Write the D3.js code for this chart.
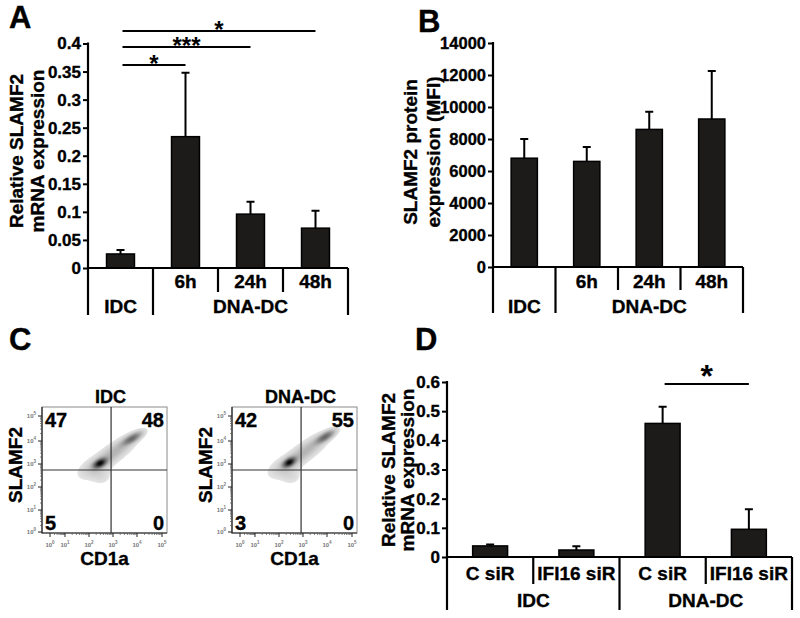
<!DOCTYPE html>
<html><head><meta charset="utf-8">
<script src="https://cdn.jsdelivr.net/npm/d3@7"></script>
<style>
body{margin:0;background:#fff}
text{font-family:"Liberation Sans",Arial,sans-serif;font-weight:bold;fill:#000}
text.b{stroke:#000;stroke-width:0.35px}
</style>
</head><body>
<svg id="c" width="800" height="618" xmlns="http://www.w3.org/2000/svg"></svg>
<script>
// ---------- DATA ----------
// Panel A : relative SLAMF2 mRNA expression
const aGroups = ["IDC","DNA-DC","DNA-DC","DNA-DC"];
const aTimes  = ["","6h","24h","48h"];
const aValues = [0.025,0.234,0.096,0.071];
const aErrors = [0.007,0.114,0.022,0.031];
const aTicks  = [0,0.05,0.1,0.15,0.2,0.25,0.3,0.35,0.4];
const aSigFrom = [0,0,0];
const aSigTo   = [1,2,3];
const aSigLabels = ["*","***","*"];

// Panel B : SLAMF2 protein expression (MFI)
const bGroups = ["IDC","DNA-DC","DNA-DC","DNA-DC"];
const bTimes  = ["","6h","24h","48h"];
const bValues = [6800,6600,8600,9250];
const bErrors = [1200,900,1100,3000];
const bTicks  = [0,2000,4000,6000,8000,10000,12000,14000];

// Panel C : flow cytometry quadrants (UL, UR, LL, LR)
const cTitles = ["IDC","DNA-DC"];
const cQuadIDC = [47,48,5,0];
const cQuadDNA = [42,55,3,0];
const cDecades = [0,1,2,3,4,5];
const cGateX = [2.92,2.92];
const cGateY = [2.74,2.74];
// density populations: [log CD1a, log SLAMF2, sdX, sdY, corr, weight]
const cPopIDC = [[2.46,3.03,0.17,0.13,0.5,1.0],[3.80,4.10,0.26,0.17,0.75,0.50],[3.10,3.55,0.52,0.42,0.8,0.18],[2.20,2.85,0.45,0.33,0.5,0.10],[2.50,2.45,0.30,0.25,0.0,0.07],[3.0,3.45,0.8,0.6,0.75,0.045]];
const cPopDNA = [[2.43,3.07,0.16,0.13,0.5,1.0],[3.93,4.17,0.25,0.17,0.75,0.52],[3.15,3.60,0.52,0.42,0.8,0.18],[2.20,2.88,0.45,0.33,0.5,0.10],[2.50,2.45,0.30,0.25,0.0,0.07],[3.05,3.5,0.8,0.6,0.75,0.045]];

// Panel D : relative SLAMF2 mRNA expression after siRNA
const dGroups = ["IDC","IDC","DNA-DC","DNA-DC"];
const dSi     = ["C siR","IFI16 siR","C siR","IFI16 siR"];
const dValues = [0.038,0.024,0.458,0.095];
const dErrors = [0.005,0.013,0.057,0.069];
const dTicks  = [0,0.1,0.2,0.3,0.4,0.5,0.6];
const dSigFrom = [2];
const dSigTo   = [3];
const dSigLabels = ["*"];

// ---------- DRAW ----------
const svg = d3.select("#c");

function barPanel(c){
  const g = svg.append("g");
  const idx = d3.range(c.values.length);
  const x = d3.scaleBand().domain(idx).range([c.x0,c.x1]);
  const y = d3.scaleLinear().domain([0,c.max]).range([c.yB,c.yT]);
  const bw = x.bandwidth()*c.bwFrac;
  const cx = i => x(i)+x.bandwidth()/2;
  // error bars
  g.selectAll(".err").data(idx).join("path")
    .attr("d",i=>`M${cx(i)},${y(c.values[i])}V${y(c.values[i]+c.errors[i])}M${cx(i)-4},${y(c.values[i]+c.errors[i])}h8`)
    .attr("stroke","#000").attr("stroke-width",2).attr("fill","none");
  // bars
  g.selectAll(".bar").data(idx).join("rect")
    .attr("x",i=>cx(i)-bw/2).attr("y",i=>y(c.values[i]))
    .attr("width",bw).attr("height",i=>y(0)-y(c.values[i]))
    .attr("fill","#1d1a1a").attr("stroke","#000").attr("stroke-width",1.5);
  // y axis
  const ax = g.append("g").attr("transform",`translate(${c.x0},0)`)
    .call(d3.axisLeft(y).tickValues(c.ticks).tickSize(5).tickSizeOuter(0).tickPadding(2).tickFormat(c.fmt));
  ax.select(".domain").remove();
  ax.selectAll(".tick line").attr("stroke","#000").attr("stroke-width",2);
  ax.selectAll(".tick text").attr("class","b").attr("font-size",c.tickFs).attr("font-family","Liberation Sans, Arial, sans-serif").attr("font-weight","bold").attr("fill","#000");
  // axis lines
  g.append("path").attr("d",`M${c.x0},${c.yT-1}V${c.longY}`).attr("stroke","#000").attr("stroke-width",2.2);
  g.append("path").attr("d",`M${c.x0-1},${c.yB}H${c.x1}`).attr("stroke","#000").attr("stroke-width",2.2);
  // dividers
  for(let i=1;i<=idx.length;i++){
    const xb = i<idx.length ? x(i) : c.x1;
    const isGroup = i===idx.length || c.groups[i]!==c.groups[i-1];
    g.append("path").attr("d",`M${xb},${c.yB}V${isGroup?c.longY:c.shortY}`).attr("stroke","#000").attr("stroke-width",2.2);
  }
  // level-1 labels
  idx.forEach(i=>{ if(c.sub[i]) g.append("text").attr("class","b").attr("x",cx(i)).attr("y",c.subY).attr("text-anchor","middle").attr("font-size",c.catFs).text(c.sub[i]); });
  // group labels
  const grp = d3.groups(idx,i=>c.groups[i]);
  grp.forEach(([name,ids])=>{
    const xm = (x(ids[0])+x(ids[ids.length-1])+x.bandwidth())/2;
    g.append("text").attr("class","b").attr("x",xm).attr("y",c.grpY).attr("text-anchor","middle").attr("font-size",c.catFs).text(name);
  });
  // y label
  c.ylab.forEach((t,k)=>{
    g.append("text").attr("class","b").attr("transform",`translate(${c.ylabX[k]},${c.ylabY}) rotate(-90)`)
      .attr("text-anchor","middle").attr("font-size",19).text(t);
  });
  // significance
  if(c.sigFrom){
    c.sigFrom.forEach((f,k)=>{
      const x1 = cx(f)+2, x2 = cx(c.sigTo[k]), yy = c.sigY[k];
      g.append("path").attr("d",`M${x1},${yy}H${x2}`).attr("stroke","#000").attr("stroke-width",2);
      g.append("text").attr("x",(x1+x2)/2).attr("y",yy+c.sigDy).attr("text-anchor","middle")
        .attr("font-size",c.sigFs).attr("font-weight","normal").text(c.sigLabels[k]);
    });
  }
  // panel letter
  g.append("text").attr("class","b").attr("x",c.letterX).attr("y",c.letterY).attr("font-size",31).text(c.letter);
}

barPanel({values:aValues,errors:aErrors,groups:aGroups,sub:aTimes,ticks:aTicks,max:0.4,
  x0:88,x1:348,yB:268,yT:43.5,bwFrac:0.43,longY:315,shortY:292,subY:288,grpY:313,
  fmt:d=>String(d),tickFs:17,catFs:19,
  ylab:["Relative SLAMF2","mRNA expression"],ylabX:[23,44],ylabY:151,
  sigFrom:aSigFrom,sigTo:aSigTo,sigLabels:aSigLabels,sigY:[65,47,31],sigDy:7,sigFs:24,
  letter:"A",letterX:9,letterY:28});

barPanel({values:bValues,errors:bErrors,groups:bGroups,sub:bTimes,ticks:bTicks,max:14000,
  x0:493,x1:743,yB:267,yT:43,bwFrac:0.42,longY:313,shortY:290,subY:288,grpY:313,
  fmt:d=>String(d),tickFs:16.5,catFs:19,
  ylab:["SLAMF2 protein","expression (MFI)"],ylabX:[417,440],ylabY:152,
  letter:"B",letterX:418,letterY:32});

barPanel({values:dValues,errors:dErrors,groups:dGroups,sub:dSi,ticks:dTicks,max:0.6,
  x0:447,x1:792,yB:557,yT:382,bwFrac:0.405,longY:610,shortY:584,subY:580,grpY:607,
  fmt:d=>String(d),tickFs:17,catFs:19,
  ylab:["Relative SLAMF2","mRNA expression"],ylabX:[395,414],ylabY:470,
  sigFrom:dSigFrom,sigTo:dSigTo,sigLabels:dSigLabels,sigY:[384],sigDy:3,sigFs:32,
  letter:"D",letterX:415,letterY:350});

// ---------- Panel C : flow plots ----------
const flowXPos = [8,23,47,71,95,120];
const flowYPos = [1,23,46,69,92,117];
function flowPanel(x0, title, quads, pops, gx, gy){
  const W=125,H=126,y0=407;
  const g = svg.append("g");
  const xs = d3.scaleLinear().domain(cDecades).range(flowXPos.map(p=>x0+p));
  const ys = d3.scaleLinear().domain(cDecades).range(flowYPos.map(p=>y0+H-p));
  // density grid
  const vals = new Float64Array(W*H);
  let mx = 0;
  for(let j=0;j<H;j++){
    const ly = ys.invert(y0+j+0.5);
    for(let i=0;i<W;i++){
      const lx = xs.invert(x0+i+0.5);
      let s=0;
      pops.forEach(([mxx,myy,sx,sy,r,w])=>{
        const dx=(lx-mxx)/sx, dy=(ly-myy)/sy;
        const q=(dx*dx-2*r*dx*dy+dy*dy)/(1-r*r);
        s+=w*Math.exp(-0.5*q);
      });
      vals[j*W+i]=s; if(s>mx) mx=s;
    }
  }
  const N=32;
  const lv = d3.range(N).map(k=>0.035+0.95*Math.pow(k/(N-1),1.4));
  const conts = d3.contours().size([W,H]).thresholds(lv.map(v=>v*mx))(vals);
  g.append("g").attr("transform",`translate(${x0},${y0})`)
    .selectAll("path").data(conts).join("path")
    .attr("d",d3.geoPath()).attr("fill",(d,k)=>d3.interpolateGreys(0.07+0.93*Math.pow(lv[k],0.6)));
  // frame
  g.append("rect").attr("x",x0).attr("y",y0).attr("width",W).attr("height",H).attr("fill","none").attr("stroke","#8a8a8a").attr("stroke-width",1);
  g.append("path").attr("d",`M${x0},${y0}V${y0+H}H${x0+W}`).attr("stroke","#222").attr("stroke-width",1.2).attr("fill","none");
  // gates
  g.append("path").attr("d",`M${xs(gx)},${y0}V${y0+H}M${x0},${ys(gy)}H${x0+W}`).attr("stroke","#333").attr("stroke-width",1.2);
  // ticks
  cDecades.forEach(dcd=>{
    g.append("path").attr("d",`M${xs(dcd)},${y0+H}v4`).attr("stroke","#222");
    g.append("path").attr("d",`M${x0},${ys(dcd)}h-4`).attr("stroke","#222");
    if(dcd<5) d3.range(2,10).forEach(m=>{
      const v=dcd+Math.log10(m);
      g.append("path").attr("d",`M${xs(v)},${y0+H}v2`).attr("stroke","#555").attr("stroke-width",0.7);
      g.append("path").attr("d",`M${x0},${ys(v)}h-2`).attr("stroke","#555").attr("stroke-width",0.7);
    });
    const tx = g.append("text").attr("x",xs(dcd)).attr("y",y0+H+14).attr("text-anchor","middle")
      .attr("font-size",6).attr("font-weight","normal").style("fill","#777");
    tx.append("tspan").text("10");
    tx.append("tspan").attr("dy",-3).attr("font-size",4.5).text(dcd);
    const ty = g.append("text").attr("x",x0-6).attr("y",ys(dcd)+2).attr("text-anchor","end")
      .attr("font-size",6).attr("font-weight","normal").style("fill","#777");
    ty.append("tspan").text("10");
    ty.append("tspan").attr("dy",-3).attr("font-size",4.5).text(dcd);
  });
  // quadrant numbers
  g.append("text").attr("class","b").attr("x",x0+3).attr("y",y0+20).attr("font-size",20).text(quads[0]);
  g.append("text").attr("class","b").attr("x",x0+W-3).attr("y",y0+20).attr("text-anchor","end").attr("font-size",20).text(quads[1]);
  g.append("text").attr("class","b").attr("x",x0+3).attr("y",y0+H-3).attr("font-size",20).text(quads[2]);
  g.append("text").attr("class","b").attr("x",x0+W-3).attr("y",y0+H-3).attr("text-anchor","end").attr("font-size",20).text(quads[3]);
  // titles & labels
  g.append("text").attr("class","b").attr("x",x0+W/2+6).attr("y",403).attr("text-anchor","middle").attr("font-size",18).text(title);
  g.append("text").attr("class","b").attr("x",x0+W/2).attr("y",565).attr("text-anchor","middle").attr("font-size",19).text("CD1a");
  g.append("text").attr("class","b").attr("transform",`translate(${x0-20},465) rotate(-90)`).attr("text-anchor","middle").attr("font-size",19).text("SLAMF2");
}
flowPanel(42,cTitles[0],cQuadIDC,cPopIDC,cGateX[0],cGateY[0]);
flowPanel(232,cTitles[1],cQuadDNA,cPopDNA,cGateX[1],cGateY[1]);
svg.append("text").attr("class","b").attr("x",9).attr("y",350).attr("font-size",31).text("C");
</script>
</body></html>
